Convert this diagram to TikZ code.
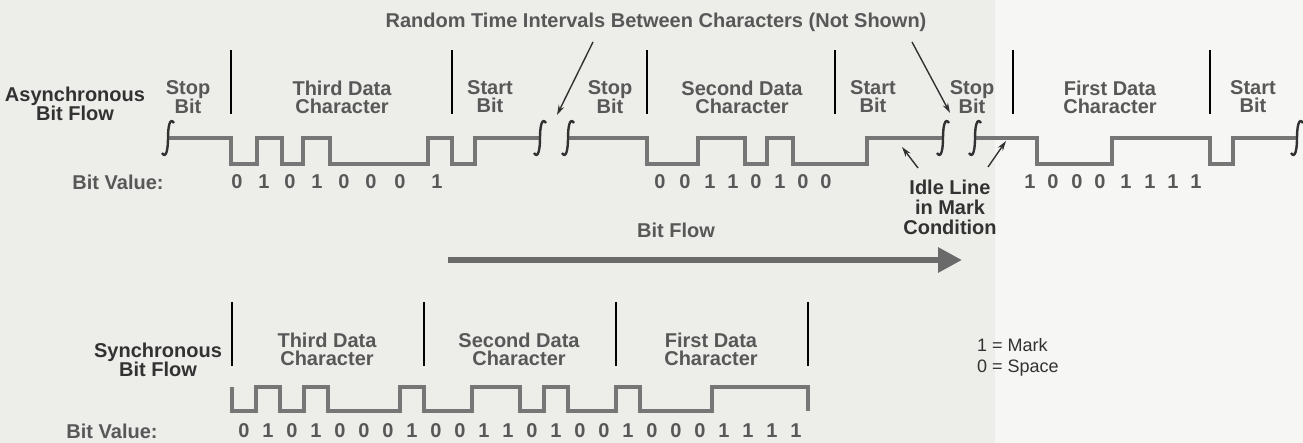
\documentclass[tikz,border=0pt]{standalone}
\usepackage{fontspec}
\setmainfont{Liberation Sans}
\usetikzlibrary{arrows.meta}

\definecolor{paper}{RGB}{237,237,234}
\definecolor{paperlight}{RGB}{246,246,244}
\definecolor{ink}{RGB}{88,88,88}
\definecolor{darkink}{RGB}{50,50,50}
\definecolor{signal}{RGB}{118,118,118}

\begin{document}
\begin{tikzpicture}[x=1pt,y=-1pt,
    every node/.style={font=\fontsize{20}{18}\selectfont\bfseries,text=ink,inner sep=0pt},
    twoline/.style={align=center},
    digit/.style={},
    divider/.style={line width=1.8pt,black},
    wave/.style={line width=3.6pt,signal},
    breakmark/.style={line width=2.4pt,darkink},
    pointer/.style={line width=1.4pt,darkink,-{Stealth[length=10pt,width=6pt]}},
    flow/.style={line width=6pt,signal!90!black,-{Triangle[length=24pt,width=24pt]}}]
    %Paper
    \fill[paper] (0,0) rectangle (1303,443);
    \fill[paperlight] (995,0) rectangle (1303,443);
    \useasboundingbox (0,0) rectangle (1303,443);

    %Title and its arrows
    \node (Title) at (656,22) {Random Time Intervals Between Characters (Not Shown)};
    \coordinate (GapOneTop) at (593,42);
    \coordinate (GapOne) at (557,115);
    \coordinate (GapTwoTop) at (912,42);
    \coordinate (GapTwo) at (950,113);
    \draw[pointer] (GapOneTop) -- (GapOne);
    \draw[pointer] (GapTwoTop) -- (GapTwo);

    %Asynchronous bit flow
    \node[twoline,text=darkink] (AsyncName) at (75,104) {Asynchronous\\Bit Flow};
    \node[twoline] (StopThree) at (188,97) {Stop\\Bit};
    \node[twoline] (ThirdChar) at (342,97) {Third Data\\Character};
    \node[twoline] (StartThree) at (490,97) {Start\\Bit};
    \node[twoline] (StopTwo) at (610,97) {Stop\\Bit};
    \node[twoline] (SecondChar) at (742,97) {Second Data\\Character};
    \node[twoline] (StartTwo) at (873,97) {Start\\Bit};
    \node[twoline] (StopOne) at (972,97) {Stop\\Bit};
    \node[twoline] (FirstChar) at (1110,97) {First Data\\Character};
    \node[twoline] (StartOne) at (1253,97) {Start\\Bit};
    \foreach \x in {231,452,647,835,1013,1210}
      \draw[divider] (\x,50) -- (\x,114);

    \draw[wave] (168,138) -- (231,138) |- (257,164) |- (282,138) |- (303,164)
      |- (330,138) |- (428,164) |- (452,138) |- (475,164) |- (540,138);
    \draw[wave] (568,138) -- (647,138) |- (698,164) |- (745,138) |- (767,164)
      |- (793,138) |- (867,164) |- (943,138);
    \draw[wave] (975,138) -- (1037,138) |- (1112,164) |- (1210,138) |- (1233,164)
      |- (1297,138);
    \foreach \x in {168,540,568,943,975,1297}
      \draw[breakmark] (\x+6,123) .. controls (\x+2,117) and (\x,126) .. (\x,138)
        .. controls (\x,150) and (\x-2,159) .. (\x-6,153);

    \node (AsyncValue) at (118,182) {Bit Value:};
    \foreach \x/\b [count=\i] in {237/0,264/1,290/0,317/1,344/0,371/0,400/0,437/1}
      \node[digit] (ThirdBit\i) at (\x,182) {\b};
    \foreach \x/\b [count=\i] in {660/0,685/0,710/1,733/1,756/0,780/1,803/0,826/0}
      \node[digit] (SecondBit\i) at (\x,182) {\b};
    \foreach \x/\b [count=\i] in {1030/1,1053/0,1077/0,1100/0,1126/1,1150/1,1173/1,1196/1}
      \node[digit] (FirstBit\i) at (\x,182) {\b};

    %Idle line
    \node[twoline,font=\fontsize{20}{20}\selectfont\bfseries,text=darkink] (Idle) at (950,207)
      {Idle Line\\in Mark\\Condition};
    \coordinate (IdleLeftTail) at (918,168);
    \coordinate (IdleLeft) at (902,147);
    \coordinate (IdleRightTail) at (988,167);
    \coordinate (IdleRight) at (1006,141);
    \draw[pointer] (IdleLeftTail) -- (IdleLeft);
    \draw[pointer] (IdleRightTail) -- (IdleRight);

    %Direction
    \node (FlowText) at (676,230) {Bit Flow};
    \coordinate (FlowStart) at (448,260);
    \coordinate (FlowEnd) at (962,260);
    \draw[flow] (FlowStart) -- (FlowEnd);

    %Synchronous bit flow
    \node[twoline,text=darkink] (SyncName) at (158,360) {Synchronous\\Bit Flow};
    \node[twoline] (SyncThird) at (327,349) {Third Data\\Character};
    \node[twoline] (SyncSecond) at (519,349) {Second Data\\Character};
    \node[twoline] (SyncFirst) at (711,349) {First Data\\Character};
    \foreach \x in {232,424,616,808}
      \draw[divider] (\x,302) -- (\x,366);

    \draw[wave] (232,387) |- (256,411) |- (280,387) |- (304,411) |- (328,387)
      |- (400,411) |- (424,387) |- (472,411) |- (520,387) |- (544,411)
      |- (568,387) |- (616,411) |- (640,387) |- (712,411) |- (808,387) -- (808,411);

    \node (SyncValue) at (112,431) {Bit Value:};
    \foreach \b [count=\i from 0] in {0,1,0,1,0,0,0,1,0,0,1,1,0,1,0,0,1,0,0,0,1,1,1,1}
      \node[digit] (SyncBit\i) at (244+24*\i,431) {\b};

    %Legend
    \node[align=left,anchor=west,font=\fontsize{18}{21}\selectfont,text=darkink] (Legend)
      at (977,357) {1 = Mark\\0 = Space};
  \end{tikzpicture}
\end{document}
